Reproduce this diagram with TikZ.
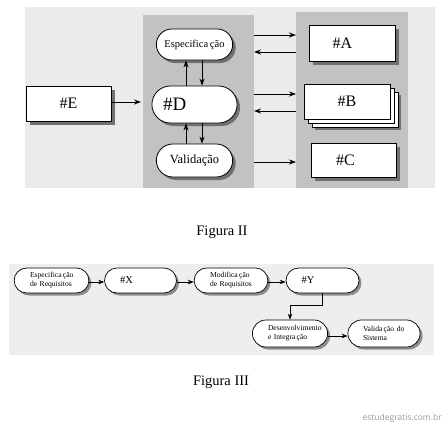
\documentclass[tikz,border=0pt]{standalone}
\usepackage{fontspec}
\setmainfont{Liberation Serif}
\newfontfamily\wmfont{Open Sans}
\usetikzlibrary{shapes.misc,shadows,arrows.meta}
\definecolor{bgA}{HTML}{EBEBEB}
\definecolor{panel}{HTML}{C2C2C2}
\definecolor{shad}{HTML}{707070}
\definecolor{bgB}{HTML}{EEEEEE}
\tikzset{
  pill/.style={rounded rectangle, draw=black, line width=0.8pt, fill=white,
    general shadow={fill=shad, shadow xshift=3pt, shadow yshift=-3pt},
    minimum width=#1, inner ysep=0pt},
  box/.style={rectangle, draw=black, line width=0.8pt, fill=white,
    general shadow={fill=shad, shadow xshift=4pt, shadow yshift=-4pt},
    minimum width=#1, inner ysep=0pt},
  pill3/.style={rounded rectangle, draw=black, line width=0.7pt, fill=white,
    general shadow={fill=shad!80, shadow xshift=2.5pt, shadow yshift=-2.5pt},
    text width=#1, inner xsep=13pt, minimum height=25pt, align=left,
    font=\fontsize{7.6pt}{9pt}\selectfont},
  arr/.style={-{Stealth[length=7pt,width=5pt]}, line width=0.9pt},
  arr3/.style={-{Stealth[length=6pt,width=4.5pt]}, line width=0.8pt},
}
\begin{document}
\begin{tikzpicture}[x=1pt,y=-1pt]
\useasboundingbox (0,0) rectangle (443,424);
\fill[white] (0,0) rectangle (443,424);
% Figure II backgrounds
\fill[bgA] (25,7) rectangle (435,188);
\node[draw=none, fill=panel, minimum width=111pt, minimum height=173pt, anchor=north west, inner sep=0pt] (mid) at (143,15) {};
\node[draw=none, fill=panel, minimum width=112pt, minimum height=176pt, anchor=north west, inner sep=0pt] (rgt) at (296,12) {};
% left column nodes
\node[pill=83pt, minimum height=31pt, font=\fontsize{10.5pt}{12pt}\selectfont] (esp) at (194.5,44.5) {Especifica\,ção};
\node[pill=83pt, minimum height=37pt, text width=63pt, inner xsep=10pt, align=left, font=\fontsize{19pt}{22pt}\selectfont] (D) at (194.5,104.5) {\#D};
\node[pill=83pt, minimum height=33pt, font=\fontsize{12.5pt}{14pt}\selectfont] (val) at (194.5,160.5) {Validação};
\node[box=85pt, minimum height=35pt, text width=61pt, inner xsep=12pt, align=center, font=\fontsize{16pt}{18pt}\selectfont] (E) at (68.5,103.5) {\#E};
\node[box=86pt, minimum height=36pt, text width=70pt, inner xsep=8pt, align=center, font=\fontsize{16pt}{18pt}\selectfont] (A) at (352,43) {\hspace*{-19pt}\#A};
\node[rectangle, draw=black, line width=0.8pt, fill=white,
  general shadow={fill=shad, shadow xshift=11pt, shadow yshift=-11pt},
  double copy shadow={shadow xshift=4pt, shadow yshift=-4pt, draw=black, fill=white},
  minimum width=86pt, minimum height=35pt, inner ysep=0pt, font=\fontsize{16pt}{18pt}\selectfont] (B) at (347,101.5) {\#B};
\node[box=85pt, minimum height=34pt, text width=70pt, inner xsep=7pt, align=center, font=\fontsize{16pt}{18pt}\selectfont] (C) at (353.5,160) {\hspace*{-16pt}\#C};
% coordinates on panel edges
\coordinate (m1) at (254,35);  \coordinate (r1) at (296,35);
\coordinate (m2) at (254,52);  \coordinate (r2) at (296,52);
\coordinate (m3) at (254,94);  \coordinate (r3) at (296,94);
\coordinate (m4) at (254,111); \coordinate (r4) at (296,111);
\coordinate (m5) at (254,162); \coordinate (r5) at (296,162);
\coordinate (mE) at (141,102);
\draw[arr] (E.east |- mE) -- (mE);
\draw[arr] (m1) -- (r1);
\draw[arr] (r2) -- (m2);
\draw[arr] (m3) -- (r3);
\draw[arr] (r4) -- (m4);
\draw[arr] (m5) -- (r5);
\draw[arr] (esp.south -| 202,0) -- (D.north -| 202,0);
\draw[arr] (D.north -| 186,0) -- (esp.south -| 186,0);
\draw[arr] (D.south -| 202,0) -- (val.north -| 202,0);
\draw[arr] (val.north -| 186,0) -- (D.south -| 186,0);
\node[font=\fontsize{14.5pt}{16pt}\selectfont] (cap2) at (222,232) {Figura II};
% Figure III
\fill[bgB, draw=white, line width=1pt] (8,263) rectangle (434,355);
\node[pill3=43pt] (er) at (51.5,280.5) {Especifica\,ção\\de Requisitos};
\node[pill3=41pt, inner xsep=15pt, font=\fontsize{10.5pt}{12pt}\selectfont] (X) at (140.5,280.5) {\#X};
\node[pill3=42pt] (mr) at (231,280.5) {Modifica\,ção\\de Requisitos};
\node[pill3=42pt, inner xsep=15pt, font=\fontsize{10.5pt}{12pt}\selectfont] (Y) at (322.5,280.5) {\#Y};
\node[pill3=44pt, minimum height=27pt] (dev) at (290,333.5) {Desenvolvimento\\e Integra\,ção};
\node[pill3=42pt, minimum height=27pt] (vs) at (384,333.5) {Valida\,ção do\\Sistema};
\draw[arr3] (er.east |- 0,282) -- (X.west |- 0,282);
\draw[arr3] (X.east |- 0,282) -- (mr.west |- 0,282);
\draw[arr3] (mr.east |- 0,282) -- (Y.west |- 0,282);
\draw[arr3] (Y.south) -- ++(0,12) -| (dev.north);
\draw[arr3] (dev.east |- 0,336) -- (vs.west |- 0,336);
\node[font=\fontsize{14.5pt}{16pt}\selectfont] (cap3) at (221,382) {Figura III};
\node[font=\wmfont\fontsize{8.5pt}{10pt}\selectfont, text=gray!80, anchor=east, inner sep=0pt] (wm) at (442,418) {estudegratis.com.br};
\end{tikzpicture}
\end{document}
